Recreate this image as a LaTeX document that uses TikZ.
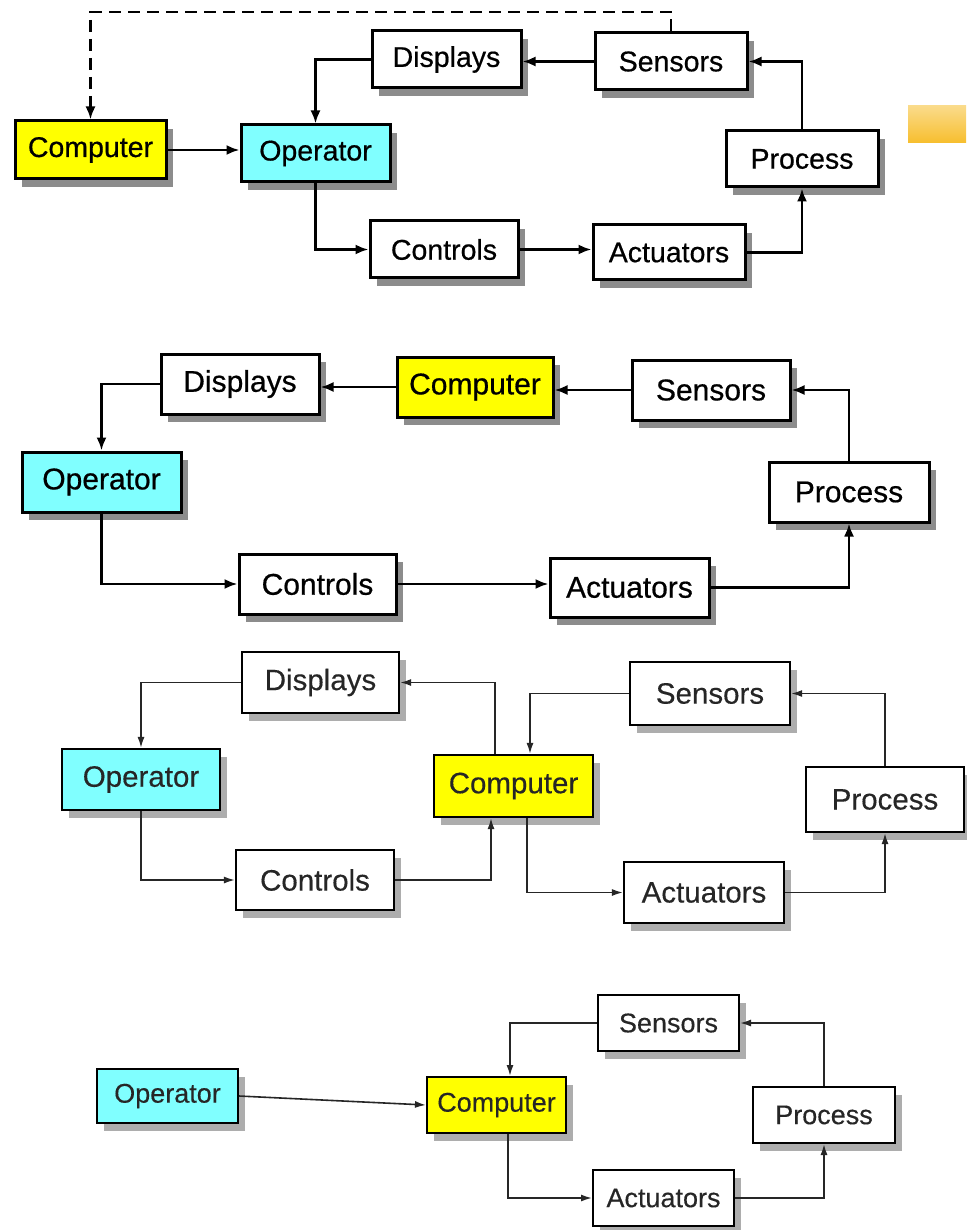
\documentclass[tikz,border=0pt]{standalone}
\usepackage{fontspec}
\setmainfont{Liberation Sans}
\usetikzlibrary{arrows.meta,shadows,patterns}
\definecolor{cyanbox}{HTML}{80FFFF}
\definecolor{yelbox}{HTML}{FFFF00}
\definecolor{goldA}{HTML}{FADB8A}
\definecolor{goldB}{HTML}{F2AC05}
\definecolor{goldC}{HTML}{F7BE2E}
\begin{document}
\begin{tikzpicture}[x=1pt,y=-1pt,
  basebox/.style={draw, fill=white, inner sep=0pt, align=center},
  boxA/.style={basebox, line width=3pt,
    font=\fontsize{28.5}{31}\selectfont\addfontfeature{FakeBold=0.6},
    drop shadow={shadow xshift=7pt, shadow yshift=-8pt, opacity=1, fill=black!45}},
  boxB/.style={basebox, line width=3pt,
    font=\fontsize{30}{33}\selectfont\addfontfeature{FakeBold=0.6},
    drop shadow={shadow xshift=7pt, shadow yshift=-8pt, opacity=1, fill=black!45}},
  boxC/.style={basebox, line width=2.2pt, text=black!85,
    font=\fontsize{29.5}{32}\selectfont\addfontfeature{FakeBold=0.3},
    drop shadow={shadow xshift=7pt, shadow yshift=-8pt, opacity=1, fill=black!32}},
  boxD/.style={basebox, line width=2pt, text=black!85,
    font=\fontsize{27}{30}\selectfont\addfontfeature{FakeBold=0.3},
    drop shadow={shadow xshift=7pt, shadow yshift=-8pt, opacity=1, fill=black!32}},
  connA/.style={line width=2.4pt, -{Latex[length=13pt,width=10pt]}},
  connC/.style={line width=1.6pt, black!85, -{Latex[length=11pt,width=7pt]}},
]
\useasboundingbox (0,0) rectangle (966,1230);
\fill[white] (0,0) rectangle (966,1230);

% ---------------- Panel 1 ----------------
\node[boxA, fill=yelbox, minimum width=151pt, minimum height=58pt] (c1) at (90.5,150) {Computer};
\node[boxA, fill=cyanbox, minimum width=149pt, minimum height=57pt] (o1) at (315.5,153.5) {Operator};
\node[boxA, minimum width=149pt, minimum height=57pt] (d1) at (446.5,59.5) {Displays};
\node[boxA, minimum width=152pt, minimum height=57pt] (s1) at (671,61.5) {Sensors};
\node[boxA, minimum width=152pt, minimum height=56pt] (p1) at (802,159) {Process};
\node[boxA, minimum width=148pt, minimum height=57pt] (ct1) at (444,249.5) {Controls};
\node[boxA, minimum width=152pt, minimum height=55pt] (a1) at (669,252.5) {Actuators};
\coordinate (t1) at (0,12);

\draw[connA] (c1.east) -- (c1.east -| o1.west);
\draw[connA] (d1.west) -| (o1.north);
\draw[connA] (o1.south) |- (ct1.west);
\draw[connA] (ct1.east) -- (ct1.east -| a1.west);
\draw[connA] (a1.east) -| (p1.south);
\draw[connA] (p1.north) |- (s1.east);
\draw[connA] (s1.west) -- (s1.west -| d1.east);
\draw[connA, dash pattern=on 12pt off 7pt] (s1.north) -- (s1.north |- t1) -| (c1.north);

% gold marker
\shade[top color=goldA, middle color=goldB, bottom color=goldC]
  (908,106) rectangle (966,143);

% ---------------- Panel 2 ----------------
\node[boxB, minimum width=158pt, minimum height=60pt] (d2) at (240,384) {Displays};
\node[boxB, fill=yelbox, minimum width=156pt, minimum height=60pt] (c2) at (475,387) {Computer};
\node[boxB, minimum width=158pt, minimum height=60pt] (s2) at (711,390) {Sensors};
\node[boxB, fill=cyanbox, minimum width=159pt, minimum height=60pt] (o2) at (101.5,482) {Operator};
\node[boxB, minimum width=160pt, minimum height=60pt] (p2) at (849,492) {Process};
\node[boxB, minimum width=157pt, minimum height=60pt] (ct2) at (317.5,584) {Controls};
\node[boxB, minimum width=159pt, minimum height=59pt] (a2) at (629.5,587.5) {Actuators};

\draw[connA] (s2.west) -- (s2.west -| c2.east);
\draw[connA] (c2.west) -- (c2.west -| d2.east);
\draw[connA] (d2.west) -| (o2.north);
\draw[connA] (o2.south) |- (ct2.west);
\draw[connA] (ct2.east) -- (ct2.east -| a2.west);
\draw[connA] (a2.east) -| (p2.south);
\draw[connA] (p2.north) |- (s2.east);

% ---------------- Panel 3 ----------------
\node[boxC, minimum width=157pt, minimum height=61pt] (d3) at (320.5,682.5) {Displays};
\node[boxC, fill=cyanbox, minimum width=158pt, minimum height=61pt] (o3) at (141,779.5) {Operator};
\node[boxC, fill=yelbox, minimum width=159pt, minimum height=62pt] (c3) at (513.5,786) {Computer};
\node[boxC, minimum width=160pt, minimum height=63pt] (s3) at (710,693.5) {Sensors};
\node[boxC, minimum width=158pt, minimum height=65pt] (p3) at (885,799.5) {Process};
\node[boxC, minimum width=158pt, minimum height=60pt] (ct3) at (315,880) {Controls};
\node[boxC, minimum width=160pt, minimum height=61pt] (a3) at (704,892.5) {Actuators};

\draw[connC] (d3.west) -| (o3.north);
\draw[connC] ([xshift=-18.5pt]c3.north) |- (d3.east);
\draw[connC] (s3.west) -| ([xshift=16.5pt]c3.north);
\draw[connC] (p3.north) |- (s3.east);
\draw[connC] (o3.south) |- (ct3.west);
\draw[connC] (ct3.east) -| ([xshift=-22.5pt]c3.south);
\draw[connC] ([xshift=13.5pt]c3.south) |- (a3.west);
\draw[connC] (a3.east) -| (p3.south);

% ---------------- Panel 4 ----------------
\node[boxD, minimum width=141pt, minimum height=56pt] (s4) at (668.5,1023) {Sensors};
\node[boxD, fill=cyanbox, minimum width=141pt, minimum height=54pt] (o4) at (167.5,1096) {Operator};
\node[boxD, fill=yelbox, minimum width=139pt, minimum height=56pt] (c4) at (496.5,1105) {Computer};
\node[boxD, minimum width=142pt, minimum height=56pt] (p4) at (824,1115) {Process};
\node[boxD, minimum width=141pt, minimum height=56pt] (a4) at (663.5,1198) {Actuators};

\draw[connC] (s4.west) -| ([xshift=13.5pt]c4.north);
\draw[connC] (o4.east) -- (c4.west);
\draw[connC] ([xshift=11.5pt]c4.south) |- (a4.west);
\draw[connC] (a4.east) -| (p4.south);
\draw[connC] (p4.north) |- (s4.east);
\end{tikzpicture}
\end{document}
